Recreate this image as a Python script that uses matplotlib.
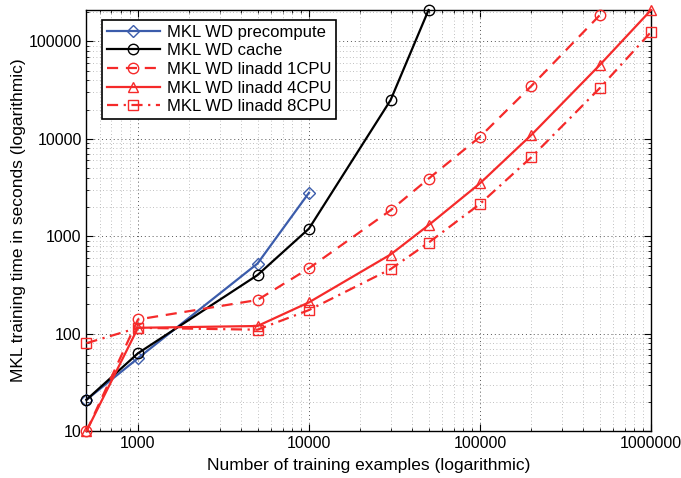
import matplotlib
matplotlib.use("Agg")
import matplotlib.pyplot as plt
from matplotlib.ticker import FixedLocator, FixedFormatter, LogLocator, NullFormatter

plt.rcParams['font.family'] = ['Liberation Sans', 'DejaVu Sans']

# training set sizes
n_pre = [500, 1000, 5000, 10000]
n_cache = [500, 1000, 5000, 10000, 30000, 50000]
n_1cpu = [500, 1000, 5000, 10000, 30000, 50000, 100000, 200000, 500000]
n_4cpu = [500, 1000, 5000, 10000, 30000, 50000, 100000, 200000, 500000, 1000000]
n_8cpu = [500, 1000, 5000, 10000, 30000, 50000, 100000, 200000, 500000, 1000000]

# training times (seconds)
t_pre = [21, 56, 525, 2800]
t_cache = [21, 63, 400, 1200, 25000, 210000]
t_1cpu = [10, 140, 222, 470, 1850, 3900, 10500, 35000, 185000]
t_4cpu = [10, 115, 120, 210, 650, 1300, 3500, 11000, 57000, 210000]
t_8cpu = [80, 115, 110, 175, 460, 860, 2150, 6500, 33000, 125000]

blue = '#3b5cab'
red = '#f52a2a'

fig = plt.figure(figsize=(6.81, 4.78), dpi=100)
ax = fig.add_axes([0.127, 0.098, 0.829, 0.881])

kw = dict(markerfacecolor='none', markersize=7.5, markeredgewidth=1.0, clip_on=False, zorder=3)
ax.plot(n_pre, t_pre, '-', color=blue, marker='D', lw=1.6, label='MKL WD precompute',
        markeredgecolor=blue, **{**kw, 'markersize': 6})
ax.plot(n_cache, t_cache, '-', color='black', marker='o', lw=1.6, label='MKL WD cache',
        markeredgecolor='black', **kw)
ax.plot(n_1cpu, t_1cpu, '--', color=red, marker='o', lw=1.6, label='MKL WD linadd 1CPU',
        markeredgecolor=red, dashes=(5, 3.5), **kw)
ax.plot(n_4cpu, t_4cpu, '-', color=red, marker='^', lw=1.6, label='MKL WD linadd 4CPU',
        markeredgecolor=red, **kw)
ax.plot(n_8cpu, t_8cpu, '-.', color=red, marker='s', lw=1.6, label='MKL WD linadd 8CPU',
        markeredgecolor=red, dashes=(5, 2.5, 1, 2.5), **{**kw, 'markersize': 6.5})

ax.set_xscale('log')
ax.set_yscale('log')
ax.set_xlim(500, 1000000)
ax.set_ylim(10, 210000)

xt = [1000, 10000, 100000, 1000000]
ax.xaxis.set_major_locator(FixedLocator(xt))
ax.xaxis.set_major_formatter(FixedFormatter([str(v) for v in xt]))
yt = [10, 100, 1000, 10000, 100000]
ax.yaxis.set_major_locator(FixedLocator(yt))
ax.yaxis.set_major_formatter(FixedFormatter([str(v) for v in yt]))
for a in (ax.xaxis, ax.yaxis):
    a.set_minor_locator(LogLocator(base=10, subs=range(2, 10), numticks=20))
    a.set_minor_formatter(NullFormatter())

ax.tick_params(which='both', direction='in', top=True, right=True, labelsize=11.5)
ax.tick_params(which='major', length=5)
ax.tick_params(which='minor', length=2.5)
ax.grid(True, which='major', linestyle=(0, (1, 3)), color='#555555', lw=0.7)
ax.grid(True, which='minor', linestyle=(0, (1, 3)), color='#aaaaaa', lw=0.6)
for s in ax.spines.values():
    s.set_linewidth(1.0)

ax.set_xlabel('Number of training examples (logarithmic)', fontsize=12.5, labelpad=5)
ax.set_ylabel('MKL training time in seconds (logarithmic)', fontsize=12.5, labelpad=2)

leg = ax.legend(loc='upper left', bbox_to_anchor=(0.012, 0.997), fontsize=12,
                frameon=True, fancybox=False, framealpha=1, edgecolor='black',
                handlelength=3.2, borderpad=0.3, labelspacing=0.22, handletextpad=0.4)
leg.get_frame().set_linewidth(1.2)

fig.savefig('out.png', dpi=100)
plt.close(fig)
